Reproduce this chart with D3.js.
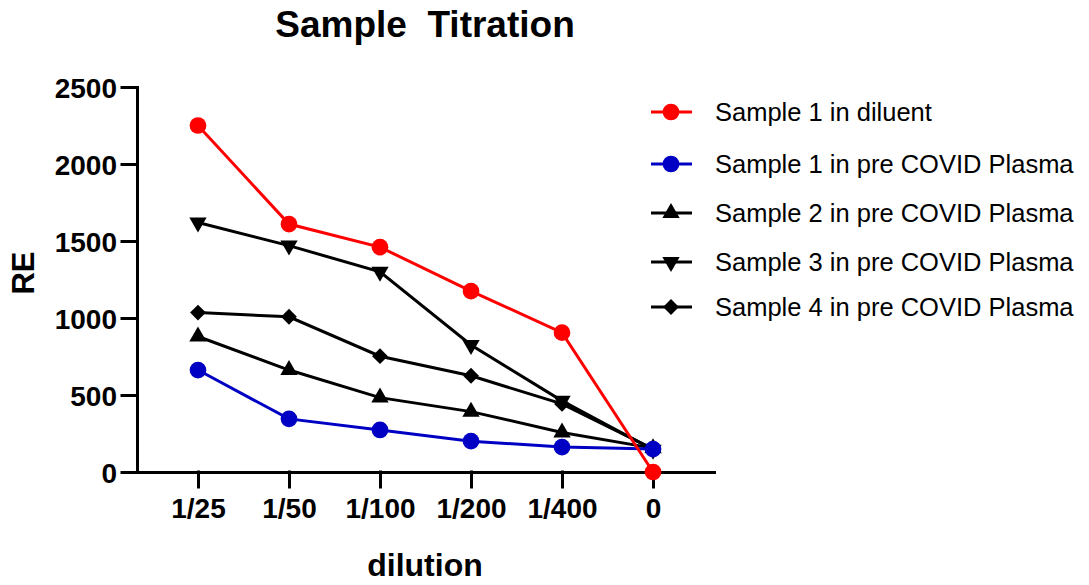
<!DOCTYPE html>
<html>
<head>
<meta charset="utf-8">
<script src="https://d3js.org/d3.v7.min.js"></script>
<style>
  body { margin: 0; background: #fff; }
  text { font-family: "Liberation Sans", Arial, sans-serif; }
</style>
</head>
<body>
<div id="chart"></div>
<script>
// data
var dilutions = ["1/25", "1/50", "1/100", "1/200", "1/400", "0"];
var yTicks = [0, 500, 1000, 1500, 2000, 2500];

var sample1Diluent = [2250, 1610, 1460, 1175, 905, 0];
var sample1Plasma = [662, 345, 273, 200, 162, 149];
var sample2Plasma = [880, 662, 483, 392, 257, 155];
var sample3Plasma = [1620, 1470, 1300, 825, 462, 145];
var sample4Plasma = [1035, 1008, 752, 625, 442, 150];

var seriesNames = [
  "Sample 1 in diluent",
  "Sample 1 in pre COVID Plasma",
  "Sample 2 in pre COVID Plasma",
  "Sample 3 in pre COVID Plasma",
  "Sample 4 in pre COVID Plasma"
];

//svg container
var svgWidth = 1089;
var svgHeight = 585;

var margin = { top: 87, left: 137 };
var width = 577;
var height = 385;

var series = [
  { name: seriesNames[0], values: sample1Diluent, color: "#ff0000", symbol: d3.symbolCircle, size: 220, rot: 0 },
  { name: seriesNames[1], values: sample1Plasma, color: "#0000c4", symbol: d3.symbolCircle, size: 220, rot: 0 },
  { name: seriesNames[2], values: sample2Plasma, color: "#000000", symbol: d3.symbolTriangle, size: 130, rot: 0 },
  { name: seriesNames[3], values: sample3Plasma, color: "#000000", symbol: d3.symbolTriangle, size: 130, rot: 180 },
  { name: seriesNames[4], values: sample4Plasma, color: "#000000", symbol: d3.symbolSquare, size: 125, rot: 45 }
];

var svg = d3.select("#chart")
  .append("svg")
  .attr("width", svgWidth)
  .attr("height", svgHeight);

var chartGroup = svg.append("g")
  .attr("transform", `translate(${margin.left}, ${margin.top})`);

//scales
var xScale = d3.scalePoint()
  .domain(dilutions)
  .range([0, width])
  .padding(0.67);

var yScale = d3.scaleLinear()
  .domain([0, 2500])
  .range([height, 0]);

//axes
var bottomAxis = d3.axisBottom(xScale).tickSize(15).tickSizeOuter(0).tickPadding(11);
var leftAxis = d3.axisLeft(yScale)
  .tickValues(yTicks)
  .tickFormat(d3.format("d"))
  .tickSize(15).tickSizeOuter(0).tickPadding(5);

var xAxisG = chartGroup.append("g")
  .attr("transform", `translate(0, ${height})`)
  .call(bottomAxis);

var yAxisG = chartGroup.append("g")
  .call(leftAxis);

[xAxisG, yAxisG].forEach(function(g) {
  g.selectAll("path, line")
    .attr("stroke", "#000")
    .attr("stroke-width", 3)
    .attr("stroke-linecap", "square");
  g.selectAll("text")
    .attr("fill", "#000")
    .style("font-size", "28px")
    .style("font-weight", "bold");
});
yAxisG.selectAll("text").attr("dy", "0.36em");

//lines + markers, last series drawn first
var line = d3.line()
  .x(function(d, i) { return xScale(dilutions[i]); })
  .y(function(d) { return yScale(d); });

series.slice().reverse().forEach(function(s) {
  var g = chartGroup.append("g");
  g.append("path")
    .datum(s.values)
    .attr("fill", "none")
    .attr("stroke", s.color)
    .attr("stroke-width", 3)
    .attr("d", line);
  g.selectAll("path.pt")
    .data(s.values)
    .enter()
    .append("path")
    .attr("class", "pt")
    .attr("d", d3.symbol().type(s.symbol).size(s.size))
    .attr("fill", s.color)
    .attr("transform", function(d, i) {
      return `translate(${xScale(dilutions[i])}, ${yScale(d)}) rotate(${s.rot})`;
    });
});

//legend
var legendY = [112, 164, 213, 262, 307];
var legend = svg.append("g");
series.forEach(function(s, i) {
  var row = legend.append("g").attr("transform", `translate(0, ${legendY[i]})`);
  row.append("line")
    .attr("x1", 651).attr("x2", 692)
    .attr("stroke", s.color)
    .attr("stroke-width", 3);
  row.append("path")
    .attr("d", d3.symbol().type(s.symbol).size(s.size))
    .attr("fill", s.color)
    .attr("transform", `translate(671, 0) rotate(${s.rot})`);
  row.append("text")
    .attr("x", 715)
    .attr("y", 0)
    .attr("dy", "0.35em")
    .style("font-size", "25.5px")
    .text(s.name);
});

//title and axis labels
svg.append("text")
  .attr("x", 425)
  .attr("y", 37)
  .attr("text-anchor", "middle")
  .style("font-size", "37px")
  .style("font-weight", "bold")
  .style("white-space", "pre")
  .text("Sample  Titration");

svg.append("text")
  .attr("transform", "rotate(-90)")
  .attr("x", -273)
  .attr("y", 34)
  .attr("text-anchor", "middle")
  .style("font-size", "31px")
  .style("font-weight", "bold")
  .text("RE");

svg.append("text")
  .attr("x", 425)
  .attr("y", 576)
  .attr("text-anchor", "middle")
  .style("font-size", "32px")
  .style("font-weight", "bold")
  .text("dilution");
</script>
</body>
</html>
